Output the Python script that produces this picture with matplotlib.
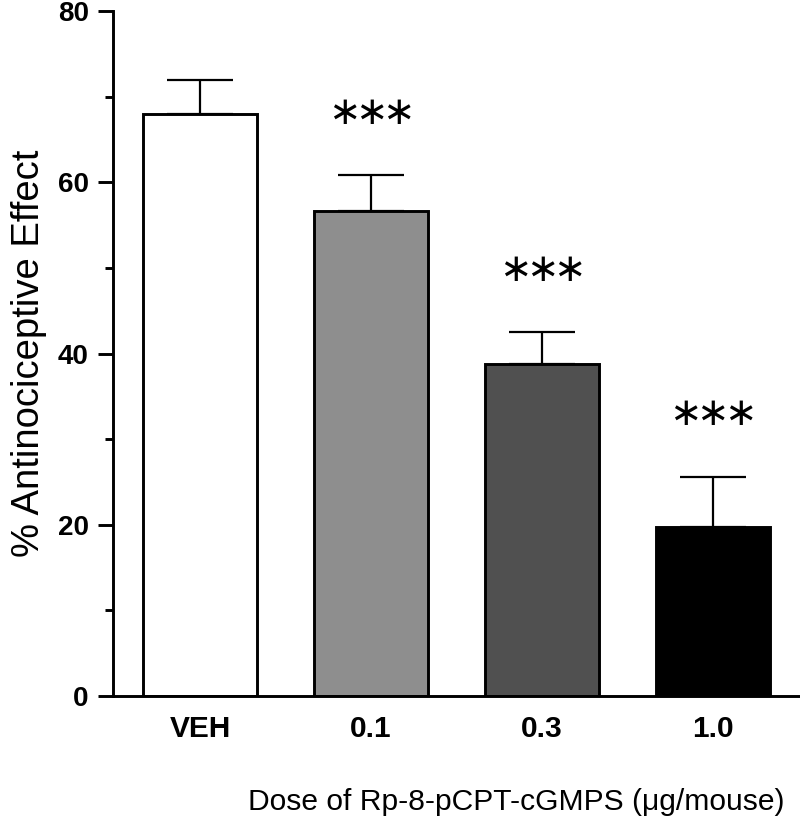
import matplotlib
matplotlib.use('Agg')
import matplotlib.pyplot as plt
from matplotlib.ticker import MultipleLocator

DOSES = ['VEH', '0.1', '0.3', '1.0']
MEANS = [68.0, 56.7, 38.8, 19.7]
SEMS = [4.0, 4.1, 3.7, 5.9]
SIGNIF = [0, 3, 3, 3]   # number of asterisks above each bar
BAR_COLORS = ['#ffffff', '#8e8e8e', '#505050', '#000000']

plt.rcParams['font.family'] = ['Liberation Sans', 'DejaVu Sans']

fig = plt.figure(figsize=(8, 8.18), dpi=100)
ax = fig.add_axes([113 / 800, 1 - 696 / 818, 687 / 800, 685 / 818])

x = list(range(len(DOSES)))
ax.bar(x, MEANS, width=0.667, color=BAR_COLORS, edgecolor='black',
       linewidth=2.1, zorder=2)
ax.errorbar(x, MEANS, yerr=[[0] * len(SEMS), SEMS], fmt='none',
            ecolor='black', elinewidth=1.6, capsize=24, capthick=1.6, zorder=1)

# significance stars, spaced in points around the bar centre
star_gap = 19.5
for xi, m, s, n in zip(x, MEANS, SEMS, SIGNIF):
    for k in range(n):
        ax.annotate('\u2217', (xi, m + s + 7.3), xytext=((k - (n - 1) / 2) * star_gap, 0),
                    textcoords='offset points', ha='center', va='center',
                    fontsize=28, family='DejaVu Sans')

ax.set_xlim(-0.51, 3.51)
ax.set_ylim(0, 80)
ax.yaxis.set_major_locator(MultipleLocator(20))
ax.yaxis.set_minor_locator(MultipleLocator(10))

for side in ('top', 'right'):
    ax.spines[side].set_visible(False)
ax.spines['left'].set_linewidth(2.1)
ax.spines['bottom'].set_linewidth(2.1)

ax.tick_params(axis='y', which='major', length=10.5, width=2.1, labelsize=20, pad=7)
ax.tick_params(axis='y', which='minor', length=5.5, width=2.1)
ax.tick_params(axis='x', length=0, labelsize=21.5, pad=14)
ax.set_xticks(x)
ax.set_xticklabels(DOSES)
for lbl in ax.get_xticklabels() + ax.get_yticklabels():
    lbl.set_fontweight('bold')

ax.set_ylabel('% Antinociceptive Effect', fontsize=27.5, labelpad=8)
ax.set_xlabel('Dose of Rp-8-pCPT-cGMPS (\u03bcg/mouse)', fontsize=21.6)
ax.xaxis.set_label_coords(0.587, -0.135)

fig.savefig('out.png', dpi=100)
